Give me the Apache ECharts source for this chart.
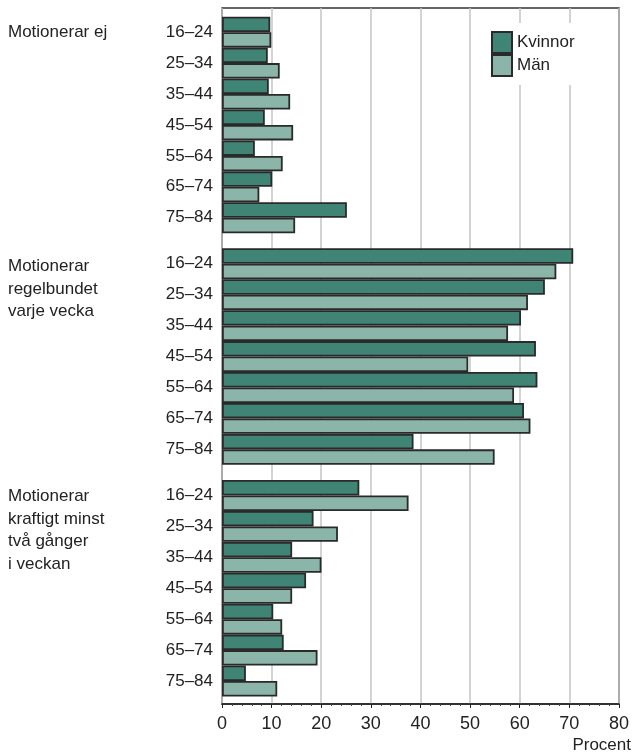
<!DOCTYPE html>
<html>
<head>
<meta charset="utf-8">
<script src="https://cdn.jsdelivr.net/npm/echarts@6/dist/echarts.min.js"></script>
<style>
  html, body { margin: 0; padding: 0; background: #fff; }
  #chart { width: 632px; height: 755px; }
</style>
</head>
<body>
<div id="chart"></div>
<script>
  // categories
  var ages = ['16–24', '25–34', '35–44', '45–54', '55–64', '65–74', '75–84'];
  var groupLabels = ['Motionerar ej', 'Motionerar\nregelbundet\nvarje vecka', 'Motionerar\nkraftigt minst\ntvå gånger\ni veckan'];
  var seriesNames = ['Kvinnor', 'Män'];

  // values, procent
  var ejKvinnor = [9.7, 9.2, 9.4, 8.6, 6.6, 10.1, 25.1];
  var ejMan = [9.9, 11.6, 13.7, 14.3, 12.2, 7.5, 14.7];
  var regKvinnor = [70.6, 64.9, 60.1, 63.1, 63.4, 60.7, 38.5];
  var regMan = [67.2, 61.5, 57.5, 49.5, 58.7, 62.0, 54.8];
  var kraftKvinnor = [27.6, 18.4, 14.1, 16.9, 10.3, 12.4, 4.8];
  var kraftMan = [37.5, 23.3, 20.0, 14.1, 12.1, 19.2, 11.1];

  var font = 'Liberation Sans, Arial, sans-serif';
  var textColor = '#222';
  var colors = ['#3f8474', '#8bb5a9'];
  var groupTops = [16.7, 248.3, 480];
  var groupData = [[ejKvinnor, ejMan], [regKvinnor, regMan], [kraftKvinnor, kraftMan]];

  var myChart = echarts.init(document.getElementById('chart'));

  var grids = [{left: 222, top: 8, width: 398, height: 696, show: true, borderColor: '#333', borderWidth: 1.5}];
  var xAxes = [{
    gridIndex: 0,
    type: 'value',
    min: 0,
    max: 80,
    interval: 10,
    axisLine: {show: true, lineStyle: {color: '#222', width: 1.5}},
    axisTick: {show: true, length: 4, lineStyle: {color: '#222'}},
    minorTick: {show: true, splitNumber: 5, length: 2, lineStyle: {color: '#444'}},
    splitLine: {show: true, lineStyle: {color: '#c4c4c4', width: 1.5}},
    axisLabel: {fontFamily: font, fontSize: 18, color: textColor, margin: 11}
  }];
  var yAxes = [{gridIndex: 0, type: 'value', show: false}];
  var series = [];

  for (var g = 0; g < 3; g++) {
    grids.push({left: 222, top: groupTops[g], width: 398, height: 216.5});
    xAxes.push({gridIndex: g + 1, type: 'value', min: 0, max: 80, show: false});
    yAxes.push({
      gridIndex: g + 1,
      type: 'category',
      inverse: true,
      data: ages,
      axisLine: {show: false},
      axisTick: {show: false},
      axisLabel: {fontFamily: font, fontSize: 17, color: textColor, margin: 9}
    });
    for (var s = 0; s < 2; s++) {
      series.push({
        name: seriesNames[s],
        type: 'bar',
        xAxisIndex: g + 1,
        yAxisIndex: g + 1,
        data: groupData[g][s],
        barGap: 0,
        barCategoryGap: 0,
        itemStyle: {color: colors[s], borderColor: '#2a2a2a', borderWidth: 1.8},
        animation: false
      });
    }
  }

  var graphics = [];
  var labelY = [21, 255.5, 485.5];
  for (var i = 0; i < 3; i++) {
    graphics.push({
      type: 'text',
      left: 8,
      top: labelY[i],
      style: {text: groupLabels[i], font: '17px ' + font, fill: textColor, lineHeight: 22.5}
    });
  }
  graphics.push({
    type: 'text',
    right: 1,
    top: 737,
    style: {text: 'Procent', font: '17px ' + font, fill: textColor}
  });

  var option = {
    animation: false,
    legend: {
      data: seriesNames,
      orient: 'vertical',
      left: 481,
      top: 23,
      itemGap: 0,
      itemWidth: 20,
      itemHeight: 21,
      padding: [8, 14, 8, 10],
      backgroundColor: '#fff',
      icon: 'rect',
      textStyle: {fontFamily: font, fontSize: 17, color: textColor}
    },
    grid: grids,
    xAxis: xAxes,
    yAxis: yAxes,
    series: series,
    graphic: graphics
  };
  myChart.setOption(option);
</script>
</body>
</html>
